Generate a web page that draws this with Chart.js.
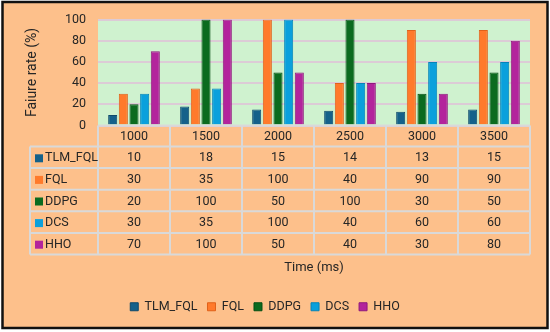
<!DOCTYPE html>
<html>
<head>
<meta charset="utf-8">
<script src="https://cdn.jsdelivr.net/npm/chart.js@4/dist/chart.umd.min.js"></script>
<style>
  html, body { margin: 0; padding: 0; background: #fff; }
  #wrap { width: 550px; height: 332px; position: relative; }
</style>
</head>
<body>
<div id="wrap"><canvas id="myChart" width="550" height="332"></canvas></div>
<script>
const categories = ['1000', '1500', '2000', '2500', '3000', '3500'];
const seriesNames = ['TLM_FQL', 'FQL', 'DDPG', 'DCS', 'HHO'];
const tlmFql = [10, 18, 15, 14, 13, 15];
const fql = [30, 35, 100, 40, 90, 90];
const ddpg = [20, 100, 50, 100, 30, 50];
const dcs = [30, 35, 100, 40, 60, 60];
const hho = [70, 100, 50, 40, 30, 80];
const yTicks = [0, 20, 40, 60, 80, 100];

const colors = ['#15618A', '#FF7A2B', '#0B6B1F', '#0AA0DC', '#B3249C'];
const borders = ['#0E4A6B', '#E0621A', '#064F14', '#0584B8', '#8E1A7C'];
const allData = [tlmFql, fql, ddpg, dcs, hho];

const BG = '#FDC08B';
const FONT = 'Roboto';
const TXT = '#262626';

// fond orange, zone verte, cadre noir
const backdrop = {
  id: 'backdrop',
  beforeDraw(chart) {
    const ctx = chart.ctx;
    const a = chart.chartArea;
    ctx.save();
    ctx.fillStyle = '#fff';
    ctx.fillRect(0, 0, chart.width, chart.height);
    ctx.fillStyle = BG;
    ctx.fillRect(2, 2, 545, 326);
    ctx.fillStyle = '#CFF2CF';
    ctx.fillRect(a.left, a.top, a.right - a.left, a.bottom - a.top);
    ctx.restore();
  },
  afterDraw(chart) {
    const ctx = chart.ctx;
    ctx.save();
    ctx.strokeStyle = '#111';
    ctx.lineWidth = 2.5;
    ctx.strokeRect(2.5, 2, 545, 326);
    ctx.restore();
  }
};

// tableau de données sous le graphique
const dataTable = {
  id: 'dataTable',
  afterDraw(chart) {
    const ctx = chart.ctx;
    const x = chart.scales.x;
    const a = chart.chartArea;
    const colW = (a.right - a.left) / categories.length;
    const top = a.bottom;
    const headH = 21;
    const rowH = 21.6;
    const labelLeft = 30;
    const bottom = top + headH + rowH * seriesNames.length;

    ctx.save();
    ctx.strokeStyle = '#D9D9D9';
    ctx.lineWidth = 2;
    ctx.beginPath();
    ctx.moveTo(a.left, top);
    ctx.lineTo(a.right, top);
    for (let r = 0; r <= seriesNames.length; r++) {
      const y = top + headH + r * rowH;
      ctx.moveTo(labelLeft, y);
      ctx.lineTo(a.right, y);
    }
    for (let i = 0; i <= categories.length; i++) {
      const xx = a.left + i * colW;
      ctx.moveTo(xx, top);
      ctx.lineTo(xx, bottom);
    }
    ctx.moveTo(labelLeft, top + headH);
    ctx.lineTo(labelLeft, bottom);
    ctx.stroke();

    ctx.fillStyle = TXT;
    ctx.font = '12.5px ' + FONT;
    ctx.textAlign = 'center';
    ctx.textBaseline = 'middle';
    categories.forEach((c, i) => {
      ctx.fillText(c, x.getPixelForValue(i), top + headH / 2 + 1);
    });
    seriesNames.forEach((name, r) => {
      const cy = top + headH + r * rowH + rowH / 2 + 1;
      ctx.fillStyle = colors[r];
      ctx.fillRect(labelLeft + 5, cy - 4, 8, 8);
      ctx.fillStyle = TXT;
      ctx.textAlign = 'left';
      ctx.fillText(name, labelLeft + 15, cy);
      ctx.textAlign = 'center';
      allData[r].forEach((v, i) => {
        ctx.fillText(String(v), x.getPixelForValue(i), cy);
      });
    });
    ctx.restore();
  }
};

const chart = new Chart(
  document.getElementById('myChart'),
  {
    type: 'bar',
    plugins: [backdrop, dataTable],
    data: {
      labels: categories,
      datasets: seriesNames.map((name, i) => ({
        label: name,
        data: allData[i],
        backgroundColor: colors[i],
        borderColor: borders[i],
        borderWidth: 1,
        categoryPercentage: 0.74,
        barPercentage: 0.85,
      })),
    },
    options: {
      responsive: false,
      animation: false,
      layout: {
        padding: { left: 0, right: 20, top: 19, bottom: 9 },
      },
      plugins: {
        legend: {
          display: true,
          position: 'bottom',
          labels: {
            boxWidth: 8,
            boxHeight: 8,
            padding: 10,
            color: TXT,
            font: { family: FONT, size: 12.5 },
          },
        },
        tooltip: { enabled: false },
      },
      scales: {
        x: {
          grid: { display: false },
          border: { display: false },
          ticks: { display: false },
          title: {
            display: true,
            text: 'Time (ms)',
            color: TXT,
            font: { family: FONT, size: 13 },
            padding: { top: 0, bottom: 15 },
          },
          afterFit: (s) => { s.height = 165; },
        },
        y: {
          min: 0,
          max: 100,
          afterBuildTicks: (s) => { s.ticks = yTicks.map(v => ({ value: v })); },
          grid: {
            color: '#DCCBD6',
            lineWidth: 2,
            drawTicks: false,
          },
          border: { display: false },
          ticks: {
            padding: 12,
            color: TXT,
            font: { family: FONT, size: 12.5 },
          },
          title: {
            display: true,
            text: 'Faiure rate (%)',
            color: TXT,
            font: { family: FONT, size: 14 },
            padding: { top: 24, bottom: 0 },
          },
          afterFit: (s) => { s.width = 98; },
        },
      },
    },
  }
);
</script>
</body>
</html>
